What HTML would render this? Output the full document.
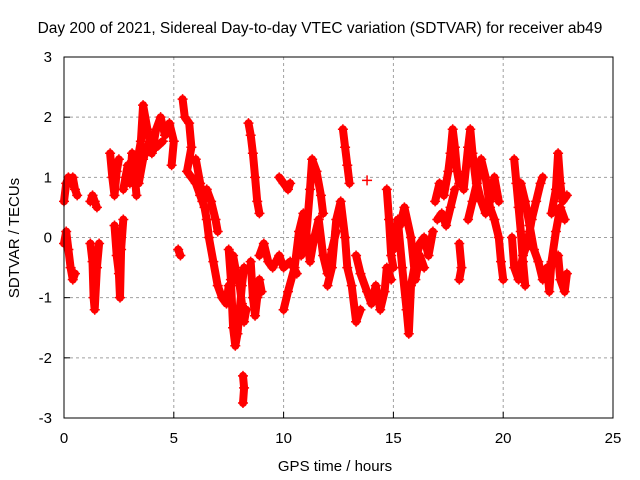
<!DOCTYPE html>
<html><head><meta charset="utf-8"><style>
html,body{margin:0;padding:0;background:#fff}
svg{display:block;font-family:"Liberation Sans",sans-serif}
</style></head><body>
<svg id="chart" width="640" height="480" viewBox="0 0 640 480">
<text x="320" y="33" font-size="15.5" text-anchor="middle">Day 200 of 2021, Sidereal Day-to-day VTEC variation (SDTVAR) for receiver ab49</text>
<text x="335" y="471" font-size="15" text-anchor="middle">GPS time / hours</text>
<text transform="translate(19,238) rotate(-90)" font-size="15" text-anchor="middle">SDTVAR / TECUs</text>
<g id="grid"></g><g id="ticks"></g><g id="marks"></g>
<rect x="64" y="57" width="549" height="361" fill="none" stroke="#000" stroke-width="1"/>
</svg>
<script>
const xTicks=[0,5,10,15,20,25];
const yTicks=[-3,-2,-1,0,1,2,3];
const segIds=[0,0,0,0,0,0,0,1,1,1,1,1,1,2,2,2,2,3,3,3,3,3,3,4,4,4,4,4,5,5,5,5,5,5,6,6,6,6,6,6,6,7,7,7,7,7,7,7,7,7,7,7,8,8,8,8,8,8,9,9,10,10,10,10,10,10,10,10,10,10,10,10,10,10,10,10,11,11,11,11,11,11,11,12,12,12,12,12,12,12,12,13,13,13,13,13,13,14,14,14,15,15,15,15,15,15,16,16,16,16,16,16,17,17,17,17,17,17,17,17,18,18,18,18,19,19,19,19,19,19,19,19,19,19,19,19,19,20,20,20,20,20,20,20,21,21,21,21,21,21,21,21,21,22,22,22,22,23,23,23,23,23,23,23,23,23,24,24,24,24,25,26,26,26,26,26,26,26,26,26,26,26,27,27,27,27,27,27,28,28,28,28,28,28,28,28,28,29,29,29,29,29,30,30,30,31,31,31,31,31,31,31,31,31,31,31,31,31,32,32,32,32,32,32,32,32,33,33,33,33,33,33,34,34,34,34,34,34,34,34,34,35,35,35,35,35,35,35,35,35,35,35,35,36,36,36,36,36,36,37,37,37,37];
const hours=[0.0,0.1,0.2,0.3,0.4,0.5,0.6, 0.0,0.1,0.2,0.3,0.4,0.5, 1.2,1.3,1.4,1.5, 1.2,1.3,1.35,1.4,1.5,1.6, 2.1,2.2,2.3,2.4,2.5, 2.3,2.4,2.5,2.55,2.6,2.7, 2.7,2.8,2.9,3.0,3.1,3.2,3.3, 3.3,3.5,3.6,3.8,4.0,4.2,4.4,4.6,4.8,5.0,4.9, 3.4,3.6,3.8,4.0,4.2,4.5, 5.2,5.3, 5.4,5.5,5.7,5.8,5.6,5.8,6.0,6.2,6.4,6.5,6.6,6.8,7.0,7.2,7.4,7.5, 6.0,6.2,6.3,6.5,6.7,6.9,7.0, 7.5,7.6,7.7,7.8,7.9,8.0,8.1,8.2, 7.7,7.8,8.0,8.1,8.2,8.3, 8.15,8.2,8.15, 8.4,8.5,8.6,8.7,8.8,8.9, 8.5,8.6,8.7,8.8,8.9,9.0, 8.9,9.1,9.3,9.5,9.8,10.0,10.3,10.6, 9.8,10.0,10.2,10.3, 10.0,10.2,10.5,10.7,10.9,11.0,11.2,11.4,11.6,11.8,12.0,12.2,12.4, 10.8,11.0,11.2,11.3,11.5,11.7,11.8, 12.0,12.2,12.4,12.6,12.8,12.9,13.1,13.3,13.5, 12.7,12.8,12.9,13.0, 13.3,13.5,13.8,14.0,14.2,14.4,14.6,14.7,14.9, 14.7,14.8,14.9,15.0, 13.8, 15.0,15.2,15.4,15.6,15.7,15.8,16.0,16.2,16.4,16.6,16.8, 15.3,15.5,15.8,16.0,16.2,16.4, 16.9,17.1,17.3,17.5,17.6,17.7,17.8,17.9,18.0, 17.0,17.2,17.4,17.6,17.8, 18.0,18.1,18.0, 18.2,18.4,18.5,18.6,18.8,18.9,19.0,19.2,19.4,19.6,19.8,19.9,20.0, 18.4,18.6,18.8,19.0,19.2,19.4,19.6,19.8, 20.5,20.6,20.7,20.8,20.9,21.0, 20.4,20.5,20.7,20.9,21.1,21.3,21.5,21.7,21.8, 20.8,21.0,21.2,21.4,21.6,21.8,22.0,22.1,22.2,22.4,22.6,22.8, 22.2,22.4,22.5,22.6,22.7,22.9, 22.5,22.6,22.8,22.9];
const sdtvar=[0.6,0.9,1.0,0.9,1.0,0.8,0.7, -0.1,0.1,-0.2,-0.5,-0.7,-0.6, 0.6,0.7,0.6,0.5, -0.1,-0.4,-1.0,-1.2,-0.5,-0.1, 1.4,1.0,0.7,1.1,1.3, 0.2,-0.3,-0.6,-1.0,-0.2,0.3, 0.8,1.0,1.2,0.9,1.4,1.1,0.7, 1.2,1.6,2.2,1.8,1.4,1.8,2.0,1.7,1.9,1.6,1.2, 0.9,1.3,1.5,1.7,1.5,1.6, -0.2,-0.3, 2.3,2.0,1.9,1.5,1.1,1.0,0.9,0.7,0.5,0.3,0.0,-0.4,-0.8,-1.0,-1.1,-0.8, 1.3,0.9,0.6,0.8,0.6,0.3,0.1, -0.2,-0.7,-1.5,-1.8,-1.6,-1.2,-0.8,-0.5, -0.3,-0.5,-0.8,-1.1,-1.4,-1.2, -2.3,-2.5,-2.75, 1.9,1.7,1.4,1.0,0.6,0.4, -0.4,-1.0,-1.3,-1.0,-0.7,-0.9, -0.3,-0.1,-0.4,-0.5,-0.3,-0.5,-0.4,-0.6, 1.0,0.9,0.8,0.9, -1.2,-0.9,-0.5,0.1,0.4,0.2,-0.4,0.0,0.3,-0.3,-0.6,-0.2,0.1, -0.3,-0.1,0.8,1.3,1.1,0.7,0.4, -0.8,-0.5,0.3,0.6,0.0,-0.5,-0.8,-1.4,-1.2, 1.8,1.5,1.2,0.9, -0.3,-0.6,-0.9,-1.1,-0.8,-1.2,-0.9,-0.5,-0.7, 0.8,0.3,-0.3,-0.5, 0.95, -0.2,0.3,-0.5,-1.2,-1.6,-0.8,-0.4,-0.1,0.0,-0.3,0.1, 0.2,0.5,0.0,-0.7,-0.3,-0.5, 0.6,0.9,0.7,1.1,1.4,1.8,1.5,1.1,0.9, 0.3,0.4,0.2,0.5,0.8, -0.1,-0.5,-0.7, 0.8,1.5,1.8,1.4,0.8,1.2,1.3,1.0,0.5,0.3,0.0,-0.4,-0.7, 0.3,0.6,0.9,0.6,0.4,0.6,1.0,0.6, 1.3,0.9,0.5,0.1,-0.4,-0.8, 0.0,-0.5,-0.7,-0.3,-0.1,0.3,0.6,0.9,1.0, 0.9,0.6,0.2,-0.2,-0.4,-0.7,-0.5,-0.9,-0.4,0.1,0.5,0.3, 0.4,0.8,1.4,0.9,0.6,0.7, -0.3,-0.7,-0.9,-0.6];

const NS='http://www.w3.org/2000/svg';
const X0=64,X1=613,Y0=57,Y1=418;
function xs(h){return X0+(h-0)/(25-0)*(X1-X0);}
function ys(v){return Y1-(v+3)/6*(Y1-Y0);}
function mk(tag,attrs,parent){const e=document.createElementNS(NS,tag);for(const k in attrs)e.setAttribute(k,attrs[k]);parent.appendChild(e);return e;}
const grid=document.getElementById('grid'),ticks=document.getElementById('ticks'),marks=document.getElementById('marks');
xTicks.forEach(t=>{
  const x=xs(t);
  if(t>0&&t<25){const g=mk('line',{x1:x,x2:x,y1:Y0,y2:Y1,stroke:'#a0a0a0','stroke-dasharray':'3,3'},grid);
  
  }
  const tk=mk('line',{x1:x,x2:x,y1:Y1,y2:Y1-6,stroke:'#000'},ticks);
  
  
  const tt=mk('text',{x:x,y:443,'font-size':15,'text-anchor':'middle'},ticks);tt.textContent=t;
  
  
});
yTicks.forEach(t=>{
  const y=ys(t);
  if(t>-3&&t<3){const g=mk('line',{x1:X0,x2:X1,y1:y,y2:y,stroke:'#a0a0a0','stroke-dasharray':'3,3'},grid);
  
  }
  const tk=mk('line',{x1:X0,x2:X0+6,y1:y,y2:y,stroke:'#000'},ticks);
  
  
  const tt=mk('text',{x:52,y:y+5,'font-size':15,'text-anchor':'end'},ticks);tt.textContent=t;
  
  
});
let d='';
for(let i=0;i<hours.length;i++){
  const cmd=(i>0&&segIds[i]===segIds[i-1])?'L':'M';
  d+=cmd+xs(hours[i]).toFixed(1)+' '+ys(sdtvar[i]).toFixed(1)+' ';
}
const band=mk('path',{d:d,fill:'none',stroke:'#ff0000','stroke-width':8,'stroke-linejoin':'round','stroke-linecap':'round'},marks);


for(let i=0;i<hours.length;i++){
  const x=xs(hours[i]),y=ys(sdtvar[i]);
  const p=mk('path',{d:`M${x-5} ${y}H${x+5}M${x} ${y-5}V${y+5}`,stroke:'#ff0000','stroke-width':1.5},marks);
  
  
}
</script>
</body></html>
